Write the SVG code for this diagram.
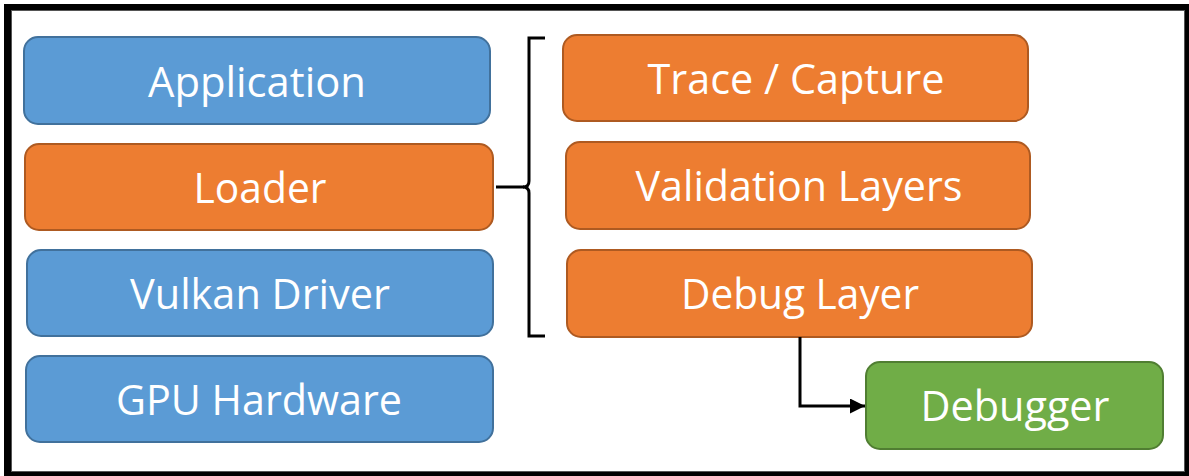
<svg xmlns="http://www.w3.org/2000/svg" width="1189" height="476" viewBox="0 0 1189 476">
<defs>
<style>
.blue{fill:#5B9BD5;stroke:#41719C;stroke-width:2}
.orange{fill:#ED7D31;stroke:#AE5A21;stroke-width:2}
.green{fill:#70AD47;stroke:#507E32;stroke-width:2}
.lbl{font-family:"Open Sans","Noto Sans",sans-serif;font-size:42px;fill:#fff;text-anchor:middle}
.conn{fill:none;stroke:#000;stroke-width:3}
</style>
<marker id="ah" markerWidth="15" markerHeight="15" refX="15" refY="7.5" orient="auto" markerUnits="userSpaceOnUse" viewBox="0 0 15 15">
<path d="M0,0 L15,7.5 L0,15 Z" fill="#000"/>
</marker>
</defs>
<rect x="0" y="0" width="1189" height="476" fill="#fff"/>
<path d="M4,4 H1189 V476 H4 Z M11,10 V472 H1185 V10 Z" fill="#000" fill-rule="evenodd"/>
<rect x="11.5" y="10.5" width="1173" height="461" fill="none" stroke="#555" stroke-width="1"/>

<g id="application"><rect class="blue" x="24" y="37" width="466" height="87" rx="14"/><text class="lbl" x="257" y="97" textLength="218" lengthAdjust="spacingAndGlyphs">Application</text></g>
<g id="loader"><rect class="orange" x="25" y="144" width="468" height="86" rx="14"/><text class="lbl" x="260" y="203" textLength="133" lengthAdjust="spacingAndGlyphs">Loader</text></g>
<g id="vulkan-driver"><rect class="blue" x="27" y="250" width="466" height="86" rx="14"/><text class="lbl" x="260" y="309" textLength="260" lengthAdjust="spacingAndGlyphs">Vulkan Driver</text></g>
<g id="gpu-hardware"><rect class="blue" x="26" y="356" width="467" height="86" rx="14"/><text class="lbl" x="259" y="415" textLength="286" lengthAdjust="spacingAndGlyphs">GPU Hardware</text></g>

<g id="trace-capture"><rect class="orange" x="563" y="35" width="465" height="86" rx="14"/><text class="lbl" x="796" y="94" textLength="297" lengthAdjust="spacingAndGlyphs">Trace / Capture</text></g>
<g id="validation-layers"><rect class="orange" x="566" y="142" width="464" height="87" rx="14"/><text class="lbl" x="799" y="201" textLength="327" lengthAdjust="spacingAndGlyphs">Validation Layers</text></g>
<g id="debug-layer"><rect class="orange" x="567" y="250" width="465" height="87" rx="14"/><text class="lbl" x="800" y="309" textLength="238" lengthAdjust="spacingAndGlyphs">Debug Layer</text></g>
<g id="debugger"><rect class="green" x="866" y="362" width="297" height="87" rx="14"/><text class="lbl" x="1015" y="421" textLength="189" lengthAdjust="spacingAndGlyphs">Debugger</text></g>

<g id="connectors">
<path class="conn" d="M545,38 H529 V181 Q529,187 523,187 Q529,187 529,193 V336 H545"/>
<path class="conn" d="M496,187 H524"/>
<path class="conn" d="M800,337 V406 H865" marker-end="url(#ah)"/>
</g>
</svg>
